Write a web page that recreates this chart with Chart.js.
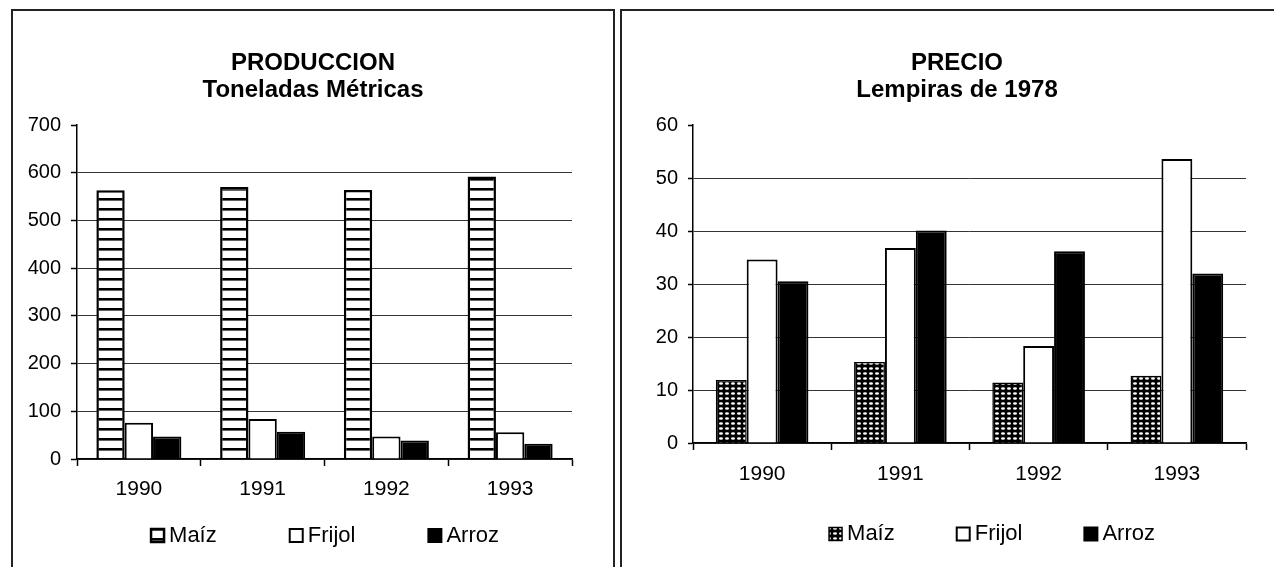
<!DOCTYPE html>
<html><head><meta charset="utf-8">
<script src="https://cdn.jsdelivr.net/npm/chart.js@4.4.1/dist/chart.umd.min.js"></script>
<style>
html,body{margin:0;padding:0;background:#fff;overflow:hidden;width:1274px;height:567px;}
.panel{position:absolute;top:9px;border:2px solid #222;box-sizing:content-box;}
#p1{left:11px;width:600px;height:570px;}
#p2{left:620px;width:670px;height:570px;}
canvas{position:absolute;left:0;top:0;}
</style></head><body>
<div class="panel" id="p1"><canvas id="c1" width="600" height="556" style="width:600px;height:556px"></canvas></div>
<div class="panel" id="p2"><canvas id="c2" width="670" height="556" style="width:670px;height:556px"></canvas></div>
<script>
// ---- data ----
const years = ['1990', '1991', '1992', '1993'];
const seriesNames = ['Maíz', 'Frijol', 'Arroz'];
const prodMaiz = [563, 570, 564, 592];
const prodFrijol = [76, 84, 47, 56];
const prodArroz = [47, 57, 39, 32];
const precioMaiz = [11.9, 15.3, 11.4, 12.7];
const precioFrijol = [34.6, 36.8, 18.3, 53.6];
const precioArroz = [30.5, 40.1, 36.2, 32.0];
const prodTitle = ['PRODUCCION', 'Toneladas Métricas'];
const precioTitle = ['PRECIO', 'Lempiras de 1978'];
const prodAxis = [0, 700, 100];
const precioAxis = [0, 60, 10];

const FONT = "'Liberation Sans', Arial, sans-serif";
Chart.defaults.font.family = FONT;
Chart.defaults.color = '#000';

function stripePattern() {
  const c = document.createElement('canvas'); c.width = 10; c.height = 10;
  const x = c.getContext('2d');
  x.fillStyle = '#fff'; x.fillRect(0, 0, 10, 10);
  x.fillStyle = '#000'; x.fillRect(0, 7, 10, 2.6);
  return x.createPattern(c, 'repeat');
}
function dotPattern() {
  const c = document.createElement('canvas'); c.width = 6; c.height = 5;
  const x = c.getContext('2d');
  x.fillStyle = '#000'; x.fillRect(0, 0, 6, 5);
  x.fillStyle = '#fff'; x.beginPath(); x.ellipse(3, 2.5, 2.0, 1.3, 0, 0, Math.PI * 2); x.fill();
  return x.createPattern(c, 'repeat');
}

// positions legend and title boxes at chosen centres
const boxPlace = {
  id: 'boxPlace',
  afterLayout(chart, args, opts) {
    const lg = chart.legend;
    if (lg) {
      const dx = opts.legCx - (lg.left + lg.right) / 2;
      lg.left += dx; lg.right += dx;
      lg.top = opts.legCy - opts.legPad - opts.itemH / 2;
      lg.bottom = chart.height;
      lg.height = lg.bottom - lg.top;
    }
    const tb = chart.titleBlock;
    if (tb) {
      const dx = opts.titleCx - (tb.left + tb.right) / 2;
      tb.left += dx; tb.right += dx;
    }
  }
};

function makeChart(id, cfg) {
  return new Chart(document.getElementById(id), {
    type: 'bar',
    data: {
      labels: years,
      datasets: [
        { label: seriesNames[0], data: cfg.maiz, backgroundColor: cfg.maizPattern, borderColor: '#000', borderWidth: cfg.maizBorder },
        { label: seriesNames[1], data: cfg.frijol, backgroundColor: '#fff', borderColor: '#000', borderWidth: 2 },
        { label: seriesNames[2], data: cfg.arroz, backgroundColor: '#000', borderColor: '#000', borderWidth: 2 }
      ]
    },
    options: {
      responsive: false, animation: false, devicePixelRatio: 1,
      layout: { padding: { left: 0, right: cfg.padR, top: 0, bottom: 0 } },
      datasets: { bar: { categoryPercentage: cfg.catPct, barPercentage: 1 } },
      plugins: {
        title: { display: true, text: cfg.title, color: '#000',
          font: { family: FONT, size: 24, weight: 'bold', lineHeight: cfg.titleLH },
          padding: { top: cfg.tPadTop, bottom: cfg.tPadBottom } },
        legend: { position: 'bottom', maxHeight: 40,
          labels: { color: '#000', font: { family: FONT, size: 22 }, usePointStyle: true, pointStyle: 'rect',
                    boxWidth: 1, boxHeight: 13, padding: cfg.legPad } },
        tooltip: { enabled: false },
        boxPlace: { legCx: cfg.legCx, legCy: cfg.legCy, legPad: cfg.legPad, itemH: 22, titleCx: cfg.titleCx }
      },
      scales: {
        x: {
          grid: { display: true, drawOnChartArea: false, drawTicks: true, tickLength: 7, tickColor: '#000', tickWidth: 1.5, offset: true },
          border: { display: true, color: '#000', width: 1.5 },
          ticks: { color: '#000', font: { family: FONT, size: 21 }, padding: cfg.xPad, maxRotation: 0 },
          afterFit(s) { s.height = cfg.xH; }
        },
        y: {
          min: cfg.axis[0], max: cfg.axis[1],
          ticks: { stepSize: cfg.axis[2], color: '#000', font: { family: FONT, size: 20 }, padding: 10 },
          grid: { color: c => (c.tick && c.tick.value === cfg.axis[1]) ? 'rgba(0,0,0,0)' : '#333', lineWidth: 1,
                  tickLength: cfg.yTick, tickColor: '#000', tickWidth: 1.5 },
          border: { display: true, color: '#000', width: 1.5 },
          afterFit(s) { s.width = cfg.yW; }
        }
      }
    },
    plugins: [boxPlace]
  });
}

makeChart('c1', {
  maiz: prodMaiz, frijol: prodFrijol, arroz: prodArroz,
  maizPattern: stripePattern(), maizBorder: 2.5,
  title: prodTitle, titleLH: 1.125, tPadTop: 38.5, tPadBottom: 21.5, titleCx: 300,
  axis: prodAxis, padR: 41, yW: 64, xH: 68, xPad: 10.9, yTick: 6,
  catPct: 0.687, legPad: 79, legCx: 315, legCy: 524.5
});
makeChart('c2', {
  maiz: precioMaiz, frijol: precioFrijol, arroz: precioArroz,
  maizPattern: dotPattern(), maizBorder: 1.5,
  title: precioTitle, titleLH: 1.125, tPadTop: 38.5, tPadBottom: 21.5, titleCx: 335,
  axis: precioAxis, padR: 46, yW: 71, xH: 84, xPad: 12.1, yTick: 5,
  catPct: 0.67, legPad: 68, legCx: 373, legCy: 523
});
</script>
</body></html>
